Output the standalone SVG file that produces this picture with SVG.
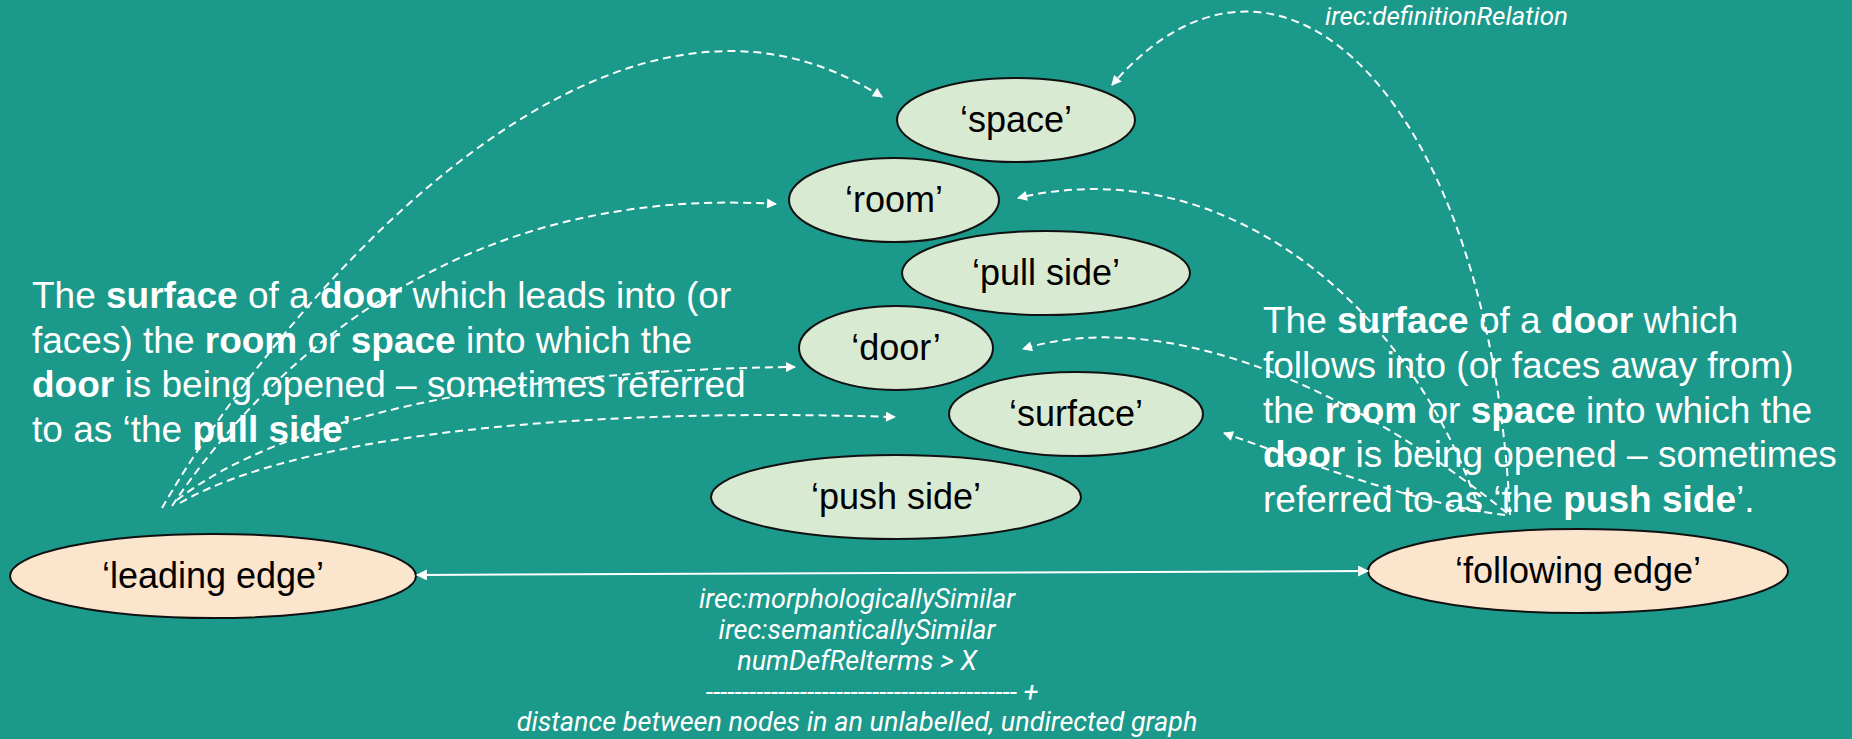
<svg xmlns="http://www.w3.org/2000/svg" width="1852" height="739" viewBox="0 0 1852 739">
<style>
.term{stroke:#111;stroke-width:2}
.g{fill:#d9ead3}
.o{fill:#fce5cd}
.lbl{font-family:"Liberation Sans",Arial,sans-serif;font-size:36px;fill:#000;text-anchor:middle}
.desc{font-family:"Liberation Sans",Arial,sans-serif;font-size:37px;fill:#fff}
.b{font-weight:bold}
.rel{font-family:Roboto,"Liberation Sans",sans-serif;font-style:italic;font-size:26px;fill:#fff}
.relb{font-size:27px;text-anchor:middle}
.dash{fill:none;stroke:#fff;stroke-width:2;stroke-dasharray:8 5;marker-end:url(#ah)}
.solid{fill:none;stroke:#fff;stroke-width:2;marker-start:url(#ah2);marker-end:url(#ah2)}
</style>
<defs>
<marker id="ah" viewBox="0 0 10 10" refX="9" refY="5" markerWidth="12" markerHeight="10" markerUnits="userSpaceOnUse" orient="auto"><path d="M0,0 L10,5 L0,10 z" fill="#fff"/></marker>
<marker id="ah2" viewBox="0 0 10 10" refX="9" refY="5" markerWidth="13" markerHeight="11" markerUnits="userSpaceOnUse" orient="auto-start-reverse"><path d="M0,0 L10,5 L0,10 z" fill="#fff"/></marker>
</defs>
<rect x="0" y="0" width="1852" height="739" fill="#1b998b"/>

<g id="desc-left">
<text class="desc" x="32" y="308">The <tspan class="b">surface</tspan> of a <tspan class="b">door</tspan> which leads into (or</text>
<text class="desc" x="32" y="353">faces) the <tspan class="b">room</tspan> or <tspan class="b">space</tspan> into which the</text>
<text class="desc" x="32" y="397"><tspan class="b">door</tspan> is being opened – sometimes referred</text>
<text class="desc" x="32" y="442">to as ‘the <tspan class="b">pull side</tspan>’</text>
</g>
<g id="desc-right">
<text class="desc" x="1263" y="333">The <tspan class="b">surface</tspan> of a <tspan class="b">door</tspan> which</text>
<text class="desc" x="1263" y="378">follows into (or faces away from)</text>
<text class="desc" x="1263" y="423">the <tspan class="b">room</tspan> or <tspan class="b">space</tspan> into which the</text>
<text class="desc" x="1263" y="467"><tspan class="b">door</tspan> is being opened – sometimes</text>
<text class="desc" x="1263" y="512">referred to as ‘the <tspan class="b">push side</tspan>’.</text>
</g>

<g id="node-space"><ellipse class="term g" cx="1016" cy="120" rx="119" ry="42"/><text class="lbl" x="1016" y="132">‘space’</text></g>
<g id="node-room"><ellipse class="term g" cx="894" cy="200" rx="105" ry="42"/><text class="lbl" x="894" y="212">‘room’</text></g>
<g id="node-pullside"><ellipse class="term g" cx="1046" cy="273" rx="144" ry="42"/><text class="lbl" x="1046" y="285">‘pull side’</text></g>
<g id="node-door"><ellipse class="term g" cx="896" cy="348" rx="97" ry="42"/><text class="lbl" x="896" y="360">‘door’</text></g>
<g id="node-surface"><ellipse class="term g" cx="1076" cy="414" rx="127" ry="42"/><text class="lbl" x="1076" y="426">‘surface’</text></g>
<g id="node-pushside"><ellipse class="term g" cx="896" cy="497" rx="185" ry="42"/><text class="lbl" x="896" y="509">‘push side’</text></g>
<g id="node-leading"><ellipse class="term o" cx="213" cy="576" rx="203" ry="42"/><text class="lbl" x="213" y="588">‘leading edge’</text></g>
<g id="node-following"><ellipse class="term o" cx="1578" cy="571" rx="210" ry="42"/><text class="lbl" x="1578" y="583">‘following edge’</text></g>

<g id="connectors">
<path class="dash" d="M162,508 C270,320 600,-85 882,97"/>
<path class="dash" d="M172,506 C270,360 460,185 776,204"/>
<path class="dash" d="M177,500 C280,420 500,370 795,367"/>
<path class="dash" d="M180,503 C270,450 500,405 895,417"/>
<path class="dash" d="M1510,515 C1490,100 1280,-110 1112,85"/>
<path class="dash" d="M1480,512 C1410,300 1220,150 1018,198"/>
<path class="dash" d="M1507,513 C1330,370 1150,310 1023,349"/>
<path class="dash" d="M1505,515 C1420,505 1300,460 1224,433"/>
<path class="solid" d="M417,575 L1368,571"/>
</g>

<g id="labels">
<text class="rel" x="1325" y="25">irec:definitionRelation</text>
<text class="rel relb" x="857" y="608">irec:morphologicallySimilar</text>
<text class="rel relb" x="857" y="639">irec:semanticallySimilar</text>
<text class="rel relb" x="857" y="670">numDefRelterms &gt; X</text>
<text class="rel relb" x="872" y="701">------------------------------------------- +</text>
<text class="rel relb" x="857" y="731">distance between nodes in an unlabelled, undirected graph</text>
</g>
</svg>
